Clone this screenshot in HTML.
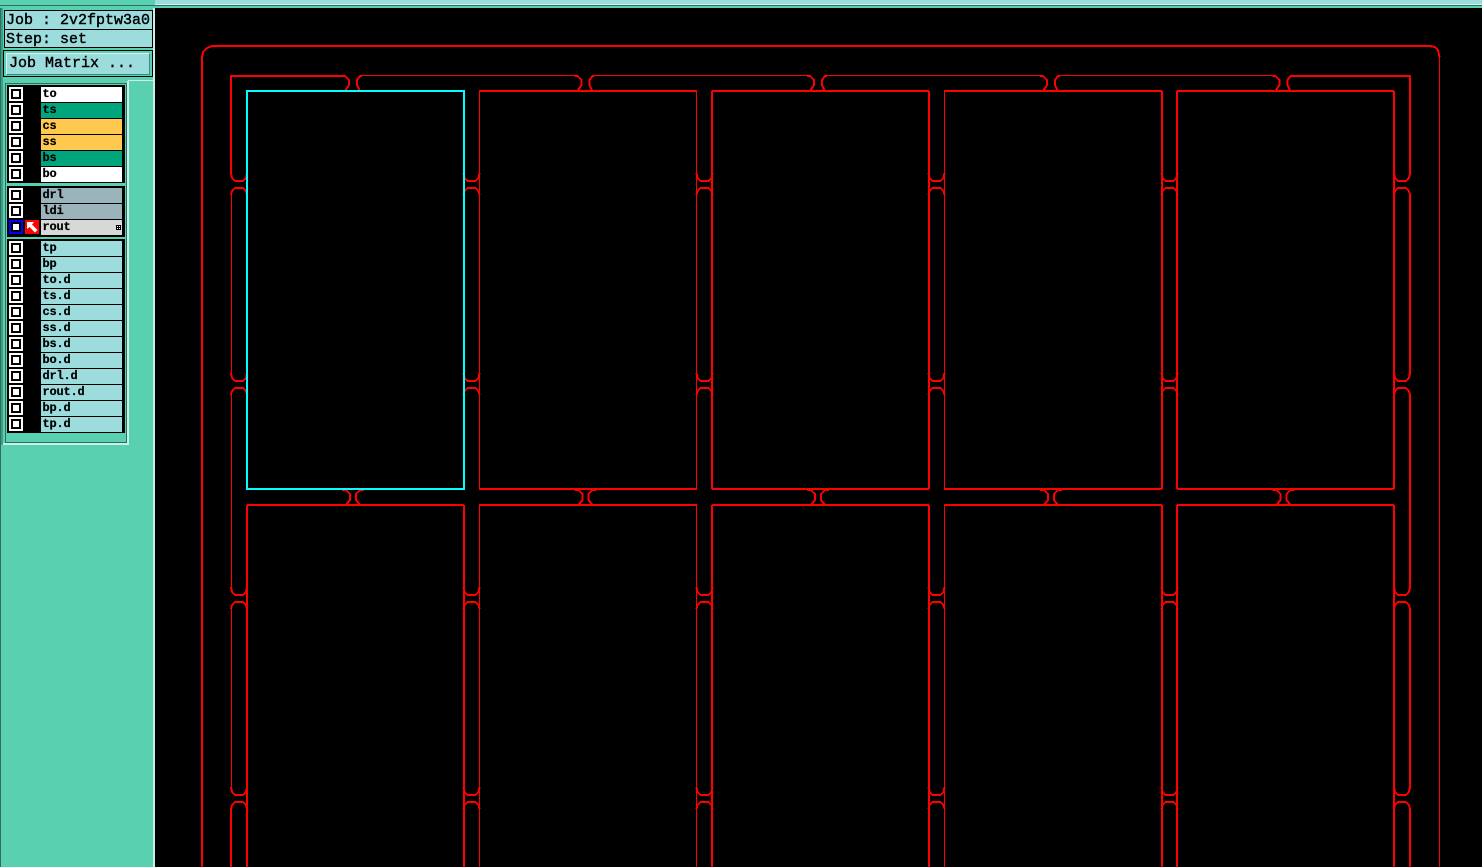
<!DOCTYPE html>
<html><head><meta charset="utf-8"><title>Job Matrix</title>
<style>
html,body{margin:0;padding:0;background:#000;width:1482px;height:867px;overflow:hidden}
div{position:absolute;box-sizing:border-box}
#side{left:0;top:0;width:155px;height:867px;background:#59d1b1}
.t{font:15px/18px "Liberation Mono",monospace;color:#000;white-space:pre;-webkit-text-stroke:.4px #000}
.r{left:41px;width:81px;height:14.5px;font:bold 12px/14px "Liberation Mono",monospace;letter-spacing:-.2px;padding-left:1.5px;color:#000;white-space:pre;-webkit-text-stroke:.2px #000}
.c{left:9px;width:14px;height:14px;background:#fff}
.c::after{content:"";position:absolute;left:2px;top:2px;width:10px;height:10px;border:2px solid #000;background:#fff;box-sizing:border-box}
.g{background:#9ddcdc}
svg{position:absolute;left:0;top:0}
</style></head><body>
<div style="left:0;top:0;width:1482px;height:8px;background:#59d1b1"></div>
<div style="left:0;top:0;width:1482px;height:4px;background:#9ddcdc"></div>
<div style="left:0;top:4px;width:1482px;height:1px;background:#d6f2f0"></div>
<div id="side"></div>
<div style="left:0;top:5px;width:1482px;height:1px;background:#2e6e60"></div>
<div style="left:153px;top:8px;width:2px;height:859px;background:#c8f0e8"></div>
<div style="left:0;top:8px;width:1px;height:859px;background:#2e6e60"></div>
<div style="left:1px;top:8px;width:2px;height:437px;background:#3d9e85"></div>

<div class="t g" style="left:4px;top:10px;width:149px;height:20px;border:1px solid #000;padding:1px 0 0 1px">Job : 2v2fptw3a0</div>
<div class="t g" style="left:4px;top:29px;width:149px;height:19px;border:1px solid #000;padding:1px 0 0 1px;line-height:17px">Step: set</div>
<div style="left:3px;top:50px;width:150px;height:27px;border:1px solid #000"></div>
<div class="t g" style="left:6px;top:53px;width:144px;height:22px;border:1px solid;border-color:#d6f2f0 #3a8a80 #3a8a80 #d6f2f0;padding-left:2px;line-height:20px">Job Matrix ...</div>

<div style="left:128px;top:80px;width:25px;height:1px;background:#c8f0e8"></div>
<div style="left:127px;top:81px;width:2px;height:364px;background:#c8f0e8"></div>
<div style="left:3px;top:443px;width:126px;height:2px;background:#c8f0e8"></div>
<div style="left:5px;top:83px;width:122px;height:360px;border:1px solid #2e6e60;background:#59d1b1"></div>
<div style="left:7px;top:85px;width:118px;height:98px;background:#000"></div>
<div style="left:7px;top:186px;width:118px;height:51px;background:#000"></div>
<div style="left:7px;top:239px;width:118px;height:194px;background:#000"></div>

<div class="c" style="top:87px"></div><div class="r" style="top:87px;background:#fff">to</div>
<div class="c" style="top:103px"></div><div class="r" style="top:103px;background:#00a57c">ts</div>
<div class="c" style="top:119px"></div><div class="r" style="top:119px;background:#ffc84f">cs</div>
<div class="c" style="top:135px"></div><div class="r" style="top:135px;background:#ffc84f">ss</div>
<div class="c" style="top:151px"></div><div class="r" style="top:151px;background:#00a57c">bs</div>
<div class="c" style="top:167px"></div><div class="r" style="top:167px;background:#fff">bo</div>

<div class="c" style="top:188px"></div><div class="r" style="top:188px;background:#9bb3bb">drl</div>
<div class="c" style="top:204px"></div><div class="r" style="top:204px;background:#9bb3bb">ldi</div>
<div class="c" style="top:220px;background:#00f"></div><div class="r" style="top:220px;background:#d8d8d8">rout</div>
<div style="left:25px;top:220px;width:14px;height:14px;background:#f00"></div>
<svg width="155" height="240" style="left:0;top:0"><path d="M27 222H34L32 224.5L37.5 230L35 232.5L29.5 227L27 229Z" fill="#fff"/><rect x="116" y="225" width="5" height="5" fill="#000"/><rect x="117" y="226" width="1" height="1" fill="#fff"/><rect x="119" y="226" width="1" height="1" fill="#fff"/><rect x="117" y="228" width="1" height="1" fill="#fff"/><rect x="119" y="228" width="1" height="1" fill="#fff"/></svg>

<div class="c" style="top:241px"></div><div class="r g" style="top:241px">tp</div>
<div class="c" style="top:257px"></div><div class="r g" style="top:257px">bp</div>
<div class="c" style="top:273px"></div><div class="r g" style="top:273px">to.d</div>
<div class="c" style="top:289px"></div><div class="r g" style="top:289px">ts.d</div>
<div class="c" style="top:305px"></div><div class="r g" style="top:305px">cs.d</div>
<div class="c" style="top:321px"></div><div class="r g" style="top:321px">ss.d</div>
<div class="c" style="top:337px"></div><div class="r g" style="top:337px">bs.d</div>
<div class="c" style="top:353px"></div><div class="r g" style="top:353px">bo.d</div>
<div class="c" style="top:369px"></div><div class="r g" style="top:369px">drl.d</div>
<div class="c" style="top:385px"></div><div class="r g" style="top:385px">rout.d</div>
<div class="c" style="top:401px"></div><div class="r g" style="top:401px">bp.d</div>
<div class="c" style="top:417px"></div><div class="r g" style="top:417px">tp.d</div>

<svg width="1482" height="867" viewBox="0 0 1482 867" style="left:0;top:0;pointer-events:none" shape-rendering="crispEdges" fill="none" stroke="#f00" stroke-width="2">
<defs>
<path id="vt" d="M-8 0L-7 5-4 8H4L7 5 8 0M-8 22L-7 18-4 15H4L7 18 8 22"/>
<path id="ht" d="M-11 -15H-8L-4-11V-6L-8 0M9 -15H7L4-11V-6L7 0"/>
<path id="mt" d="M-11 1H-7L-3 5V11L-7 16M11 1H7L3 5V11L7 16"/>
<g id="col"><use href="#vt" y="173"/><use href="#vt" y="373"/><use href="#vt" y="587"/><use href="#vt" y="787"/></g>
<g id="gap"><use href="#ht"/><use href="#mt" y="398"/></g>
</defs>

<!-- outer -->
<path d="M202 867V57L203 52 207 48 212 46H1430"/>
<path d="M1430 46L1435 47 1438 50 1439.5 57"/>
<path d="M1439.5 57V867" stroke-width="1"/>

<!-- top strip -->
<path d="M231 173V76H342"/>
<path d="M1292.5 76H1410V173"/>
<path d="M362 75.5H574.5M594.5 75.5H807M827 75.5H1040M1060 75.5H1272.5" stroke-width="1"/>

<!-- left strip -->
<path d="M231.5 195V373M231.5 395V587M231.5 609V787" stroke-width="1"/>
<path d="M231 809V867"/>
<!-- right strip -->
<path d="M1410 195V373M1410 395V587M1410 609V787M1410 809V867"/>

<!-- tabs -->
<g transform="translate(239 0)"><use href="#col"/></g>
<g transform="translate(471.5 0)"><use href="#col"/></g>
<g transform="translate(704.5 0)"><use href="#col"/></g>
<g transform="translate(936.5 0)"><use href="#col"/></g>
<g transform="translate(1169.5 0)"><use href="#col"/></g>
<g transform="translate(1402 0)"><use href="#col"/></g>

<g transform="translate(353 91)"><use href="#gap"/></g>
<g transform="translate(585.5 91)"><use href="#gap"/></g>
<g transform="translate(818 91)"><use href="#gap"/></g>
<g transform="translate(1051 91)"><use href="#gap"/></g>
<g transform="translate(1283.5 91)"><use href="#gap"/></g>

<!-- horizontals -->
<path d="M479 91H697M479 489H697M712 91H929M712 489H929M944 91H1162M944 489H1162M1177 91H1394M1177 489H1394"/>
<path d="M247 505H464M479 505H697M712 505H929M944 505H1162M1177 505H1394"/>

<!-- verticals thin -->
<path d="M479.5 91V489M479.5 505V867M696.5 91V489M696.5 505V867M944.5 91V489M944.5 505V867" stroke-width="1"/>
<!-- verticals thick -->
<path d="M247 505V867M464 505V867M712 91V489M712 505V867M929 91V489M929 505V867M1162 91V489M1162 505V867M1177 91V489M1177 505V867M1394 91V489M1394 505V867"/>

<!-- selected panel -->
<rect x="247" y="91" width="217" height="398" stroke="#0ff"/>
</svg>
</body></html>
